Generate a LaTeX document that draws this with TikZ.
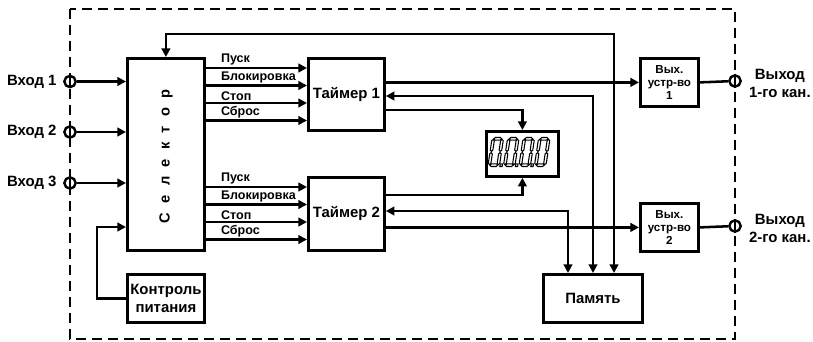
\documentclass[tikz,border=0pt]{standalone}
\usepackage{fontspec}
\setmainfont{Liberation Sans}
\usetikzlibrary{arrows.meta}
\newcommand\mysegH[3]{\draw[seg] (#1+0.6,#3) -- (#1+1.9,#3-1.3) -- (#2-1.9,#3-1.3) -- (#2-0.6,#3) -- (#2-1.9,#3+1.3) -- (#1+1.9,#3+1.3) -- cycle;}
\newcommand\mysegV[3]{\draw[seg] (#1,#2+0.6) -- (#1+1.3,#2+1.9) -- (#1+1.3,#3-1.9) -- (#1,#3-0.6) -- (#1-1.3,#3-1.9) -- (#1-1.3,#2+1.9) -- cycle;}
\newcommand\myzero[3]{%
  \begin{scope}[shift={(#1,#2)}, xslant=0.15]
    \mysegH{1.3}{10.2}{-13.2}
    \mysegH{1.3}{10.2}{13.2}
    \mysegV{1.3}{-13.2}{0}
    \mysegV{1.3}{0}{13.2}
    \mysegV{10.2}{-13.2}{0}
    \mysegV{10.2}{0}{13.2}
    \ifnum#3=1 \draw[seg] (12,11.8) rectangle (14.3,14.5);\fi
  \end{scope}}
\begin{document}
\begin{tikzpicture}[x=0.75pt,y=-0.75pt, line width=1.9pt,
  box/.style={draw, line width=2.1pt, inner sep=0pt, anchor=north west,
    font=\bfseries\fontsize{11.2}{14}\selectfont, align=center},
  smallbox/.style={box, font=\bfseries\fontsize{8.7}{10}\selectfont},
  port/.style={draw, circle, minimum size=8.5pt, inner sep=0pt, line width=1.8pt},
  arr/.style={-{Triangle[length=6.5pt,width=6.5pt]}},
  darr/.style={{Triangle[length=6.5pt,width=6.5pt]}-{Triangle[length=6.5pt,width=6.5pt]}},
  sig/.style={font=\bfseries\fontsize{9.4}{10}\selectfont, inner sep=1pt, anchor=south west},
  lbl/.style={font=\bfseries\fontsize{11.2}{13.5}\selectfont, align=center},
  seg/.style={line width=0.8pt, line join=miter}
]
\useasboundingbox (0,0) rectangle (813,342);
\draw[dash pattern=on 7.5pt off 4.5pt] (70,9) rectangle (735,339);

% blocks
\node[box, minimum width={77*0.75pt}, minimum height={192*0.75pt}] (sel) at (126,57) {};
\node[rotate=90, font=\bfseries\fontsize{11}{13}\selectfont] (seltxt) at ([yshift=-1.5pt]sel.center)
  {С\hspace{7pt}е\hspace{7pt}л\hspace{7pt}е\hspace{7pt}к\hspace{7pt}т\hspace{7pt}о\hspace{7pt}р};
\node[box, minimum width={76*0.75pt}, minimum height={72*0.75pt}] (t1) at (307,57) {Таймер 1};
\node[box, minimum width={76*0.75pt}, minimum height={73*0.75pt}] (t2) at (307,176) {Таймер 2};
\node[smallbox, minimum width={58*0.75pt}, minimum height={48*0.75pt}] (out1) at (639,57) {Вых.\\устр-во\\1};
\node[smallbox, minimum width={58*0.75pt}, minimum height={48*0.75pt}] (out2) at (639,202) {Вых.\\устр-во\\2};
\node[box, minimum width={72*0.75pt}, minimum height={45*0.75pt}] (disp) at (485,130) {};
\node[box, minimum width={99*0.75pt}, minimum height={48*0.75pt}] (mem) at (542,273) {Память};
\node[box, minimum width={77*0.75pt}, minimum height={48*0.75pt}] (pwr) at (126,273) {Контроль\\питания};

% display digits
\myzero{490}{152}{1}
\myzero{505.5}{152}{1}
\myzero{521}{152}{1}
\myzero{536.5}{152}{0}

% inputs
\foreach \y/\n in {81.5/1,132/2,183/3}{
  \node[port] (i\n) at (70,\y) {};
  \draw[line width=1.8pt] (i\n.north) -- (i\n.south);
  \draw[arr] (i\n) -- (i\n -| sel.west);
  \node[lbl, anchor=east, inner sep=4pt] (il\n) at (i\n.west) {Вход \n};
}

% power control
\coordinate (pc) at (97,227);
\draw[arr] (pwr.west) -| (pc) -- (pc -| sel.west);

% selector -> timers
\foreach \y/\t [count=\i] in {68/Пуск,85.5/Блокировка,103/Стоп,120.5/Сброс}{
  \coordinate (ya\i) at (0,\y);
  \draw[arr] (sel.east |- ya\i) -- (t1.west |- ya\i) node[sig, at start, xshift=9.5pt] {\t};
}
\foreach \y/\t [count=\i] in {187/Пуск,204.5/Блокировка,222/Стоп,239.5/Сброс}{
  \coordinate (yb\i) at (0,\y);
  \draw[arr] (sel.east |- yb\i) -- (t2.west |- yb\i) node[sig, at start, xshift=9.5pt] {\t};
}

% timer 1 outputs
\coordinate (b1) at (593,96);
\coordinate (d1) at (521,110);
\draw[arr] (t1.east |- out1.west) -- (out1.west);
\draw[arr] (t1.east |- d1) -| (disp.north);
\draw[darr] (mem.north -| b1) |- (t1.east |- b1);

% timer 2 outputs
\coordinate (d2) at (521,195);
\coordinate (b2) at (568,211);
\draw[arr] (t2.east |- d2) -| (disp.south);
\draw[darr] (mem.north -| b2) |- (t2.east |- b2);
\draw[arr] (t2.east |- out2.west) -- (out2.west);

% feedback to selector
\coordinate (fb) at (614,34);
\draw[darr] (mem.north -| fb) |- (fb -| sel.north) -- (sel.north);

% outputs
\node[port] (o1) at (735,81) {};
\node[port] (o2) at (735,226) {};
\draw[line width=1.8pt] (o1.north) -- (o1.south);
\draw[line width=1.8pt] (o2.north) -- (o2.south);
\draw (out1.east) -- (o1);
\draw (out2.east) -- (o2);
\node[lbl, anchor=west, inner sep=0pt, xshift=4.5pt, yshift=-2pt] (ol1) at (o1.east) {Выход\\1-го кан.};
\node[lbl, anchor=west, inner sep=0pt, xshift=4.5pt, yshift=-2pt] (ol2) at (o2.east) {Выход\\2-го кан.};
\end{tikzpicture}
\end{document}
